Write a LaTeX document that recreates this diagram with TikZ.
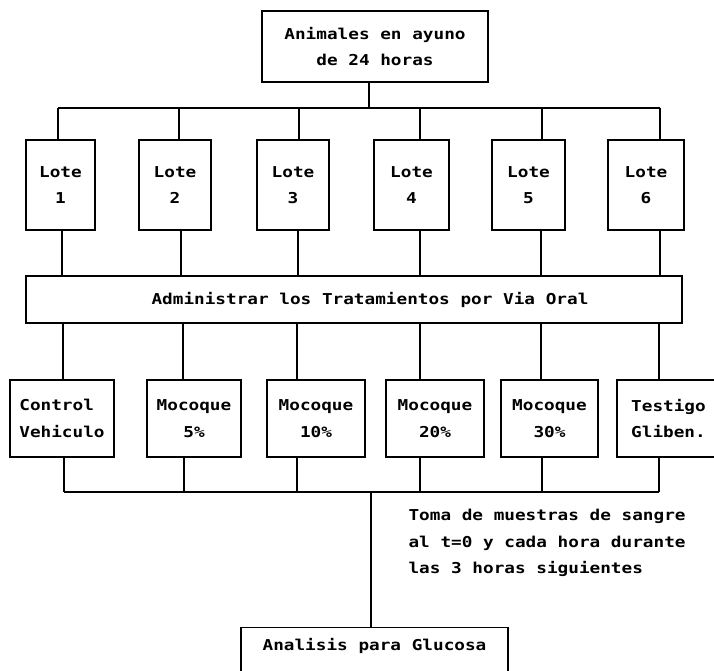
\documentclass[tikz,border=0pt]{standalone}
\usepackage{fontspec}
\newfontfamily\dotfont{DejaVu Sans Mono}[FakeStretch=1.18, UprightFont=*, BoldFont=* Bold]
\usetikzlibrary{calc}
\tikzset{
 caja/.style={draw, line width=1.2pt, inner sep=0pt, align=center},
 linea/.style={line width=1.2pt}
}
\begin{document}
\begin{tikzpicture}[x=1pt, y=-1pt, font=\dotfont\bfseries\fontsize{15}{26.5}\selectfont]
\useasboundingbox (0,0) rectangle (714,670);
\node[caja, minimum width=226pt, minimum height=71pt] (ayuno) at (375,46.5) {Animales en ayuno\\de 24 horas};
\node[caja, minimum width=656pt, minimum height=47pt] (admin) at (354,299.5) {\hspace*{32pt}Administrar los Tratamientos por Via Oral};
\draw[linea] (ayuno.south -| 369,0) -- (369,108);
\draw[linea] (58,108) -- (660,108);
\foreach \i/\cx/\w/\xa/\xb in {1/60.5/69/58/62,2/175/72/179/181,3/293/72/299/298,4/411.5/75/420/420,5/528.5/73/542/541,6/646/76/660/660}{
 \node[caja, minimum width=\w pt, minimum height=90pt] (lote\i) at (\cx,185) {Lote\\\i};
 \draw[linea] (\xa,108) -- (lote\i.north -| \xa,0);
 \draw[linea] (lote\i.south -| \xb,0) -- (admin.north -| \xb,0);
}
\foreach \i/\cx/\w/\xc/\xd/\al/\txt in {1/62/104/63/64/left/Control\\Vehiculo,2/194/94/183/184/center/Mocoque\\5\%,3/316/98/297/297/center/Mocoque\\10\%,4/435/98/420/420/center/Mocoque\\20\%,5/549.5/97/541/542/center/Mocoque\\30\%,6/668.5/103/659/659/left/Testigo\\Gliben.}{
 \node[caja, align=\al, minimum width=\w pt, minimum height=77pt] (trat\i) at (\cx,418.5) {\txt};
 \draw[linea] (admin.south -| \xc,0) -- (trat\i.north -| \xc,0);
 \draw[linea] (trat\i.south -| \xd,0) -- (\xd,492);
}
\draw[linea] (64,492) -- (659,492);
\node[caja, anchor=north, minimum width=267pt, text height=11pt, text depth=50pt, inner ysep=12pt] (glucosa) at (374.5,627) {Analisis para Glucosa};
\draw[linea] (371,492) -- (glucosa.north -| 371,0);
\node[align=left, anchor=west] (toma) at (405,543) {Toma de muestras de sangre\\al t=0 y cada hora durante\\las 3 horas siguientes};
\end{tikzpicture}
\end{document}
